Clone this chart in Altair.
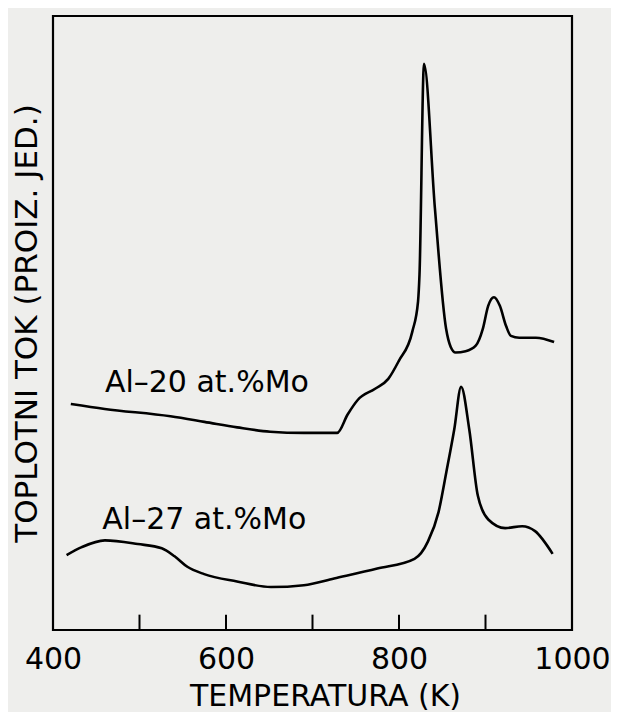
import altair as alt
import pandas as pd

# Temperature (K) and heat flow (arbitrary units, 0..100 of frame height)
t_al20 = [420.6, 459.8, 535.8, 575.0, 613.0, 651.0, 690.0, 728.5, 740.6, 752.5, 772.4,
          787.6, 799.7, 815.4, 822.0, 823.7, 828.9, 841.5, 854.4, 859.8, 865.4, 877.0,
          888.7, 896.8, 903.1, 909.8, 916.6, 923.8, 929.4, 939.0, 958.3, 979.3]
q_al20 = [36.8, 36.0, 34.8, 33.9, 33.0, 32.3, 32.1, 32.1, 35.1, 37.5, 39.3,
          40.9, 43.8, 48.6, 53.5, 57.9, 92.2, 68.7, 49.1, 46.1, 45.2, 45.4,
          46.3, 49.0, 52.8, 54.2, 52.8, 49.5, 47.9, 47.6, 47.6, 46.9]

t_al27 = [415.7, 433.2, 460.0, 498.0, 525.7, 540.6, 555.3, 574.8, 612.7, 651.9, 690.0,
          725.0, 774.9, 817.9, 833.4, 845.7, 854.7, 863.9, 871.8, 881.2, 891.1, 903.2,
          922.8, 942.4, 957.3, 977.6]
q_al27 = [12.2, 13.5, 14.6, 14.0, 13.3, 12.0, 10.3, 9.1, 7.9, 7.0, 7.3,
          8.4, 10.0, 11.6, 14.4, 19.2, 25.7, 32.7, 39.6, 32.7, 21.9, 18.0,
          16.6, 16.9, 16.1, 12.4]

series_names = ["Al–20 at.%Mo", "Al–27 at.%Mo"]
label_t = [460.0, 457.0]
label_q = [38.7, 16.4]

tick_values = [500, 600, 700, 800, 900]
label_values = [400, 600, 800, 1000]

FONT = "DejaVu Sans"

df = pd.concat([
    pd.DataFrame({"T": t_al20, "Q": q_al20, "s": series_names[0]}),
    pd.DataFrame({"T": t_al27, "Q": q_al27, "s": series_names[1]}),
])
labels_df = pd.DataFrame({"T": label_t, "Q": label_q, "s": series_names})
ticks_df = pd.DataFrame({"T": tick_values})

xscale = alt.Scale(domain=[400, 1000], nice=False, zero=False)
yscale = alt.Scale(domain=[0, 100], nice=False, zero=False)

xaxis = alt.Axis(
    values=label_values, format="d", ticks=False, domain=False, grid=False,
    labelFont=FONT, labelFontSize=30, labelColor="black", labelPadding=14,
    labelFlush=False, labelOverlap=False,
    title="TEMPERATURA (K)", titleFont=FONT, titleFontSize=30,
    titleFontWeight="normal", titleColor="black",
    titleX=272, titleY=75, titleBaseline="alphabetic", titleAnchor="middle",
)
yaxis = alt.Axis(
    labels=False, ticks=False, domain=False, grid=False,
    title="TOPLOTNI TOK (PROIZ. JED.)", titleFont=FONT, titleFontSize=31,
    titleFontWeight="normal", titleColor="black", titlePadding=10,
)

lines = alt.Chart(df).mark_line(
    color="black", strokeWidth=2.6, interpolate="monotone"
).encode(
    x=alt.X("T:Q", scale=xscale, axis=xaxis),
    y=alt.Y("Q:Q", scale=yscale, axis=yaxis),
    detail="s:N",
)

ticks = alt.Chart(ticks_df).mark_rule(color="black", strokeWidth=2).encode(
    x=alt.X("T:Q", scale=xscale),
    y=alt.datum(0),
    y2=alt.datum(2.5),
)

texts = alt.Chart(labels_df).mark_text(
    align="left", baseline="alphabetic", font=FONT, fontSize=30, color="black"
).encode(
    x=alt.X("T:Q", scale=xscale),
    y=alt.Y("Q:Q", scale=yscale),
    text="s:N",
)

chart = alt.layer(lines, ticks, texts).properties(
    width=519, height=614,
    padding={"left": 45, "top": 8, "right": 39, "bottom": 82},
    autosize=alt.AutoSizeParams(type="none"),
    background="#eeeeec",
).configure_view(
    stroke="black", strokeWidth=2.2, fill="#eeeeec"
)

chart.save("out.html", embed_options={"renderer": "svg", "actions": False})
